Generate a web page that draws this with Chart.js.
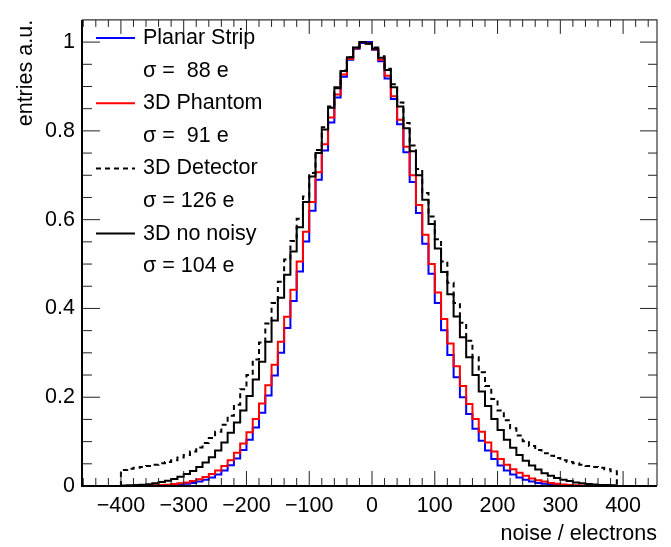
<!DOCTYPE html>
<html>
<head>
<meta charset="utf-8">
<script src="https://cdn.jsdelivr.net/npm/chart.js@4.4.1/dist/chart.umd.min.js"></script>
<style>
  html, body { margin: 0; padding: 0; background: #fff; }
</style>
</head>
<body>
<canvas id="grafica" width="671" height="547"></canvas>
<script>
// Histogramas de ruido: bins de 10 e, desde -400 hasta 400 (80 bins)
var binInicio = -400;
var binAncho = 10;

var planarStrip = [
  0, 0, 0, 0, 0, 0, 0.0005, 0.001, 0.0015, 0.0025,
  0.0035, 0.005, 0.007, 0.010, 0.014, 0.019, 0.026, 0.035, 0.047, 0.062,
  0.081, 0.104, 0.132, 0.165, 0.204, 0.249, 0.300, 0.356, 0.417, 0.483,
  0.551, 0.620, 0.690, 0.756, 0.819, 0.875, 0.922, 0.960, 0.985, 0.998,
  1.0, 0.983, 0.957, 0.918, 0.872, 0.815, 0.752, 0.685, 0.615, 0.546,
  0.478, 0.412, 0.351, 0.295, 0.245, 0.200, 0.162, 0.129, 0.102, 0.080,
  0.061, 0.046, 0.035, 0.026, 0.019, 0.014, 0.010, 0.007, 0.005, 0.0035,
  0.002, 0.001, 0, 0, 0, 0, 0, 0, 0, 0
];

var phantom3D = [
  0, 0, 0, 0.0005, 0.0008, 0.001, 0.0015, 0.002, 0.003, 0.0045,
  0.006, 0.008, 0.011, 0.015, 0.020, 0.027, 0.035, 0.045, 0.058, 0.075,
  0.096, 0.121, 0.151, 0.186, 0.227, 0.273, 0.325, 0.381, 0.442, 0.506,
  0.573, 0.640, 0.707, 0.770, 0.830, 0.882, 0.927, 0.962, 0.986, 1.0,
  0.997, 0.984, 0.960, 0.924, 0.878, 0.825, 0.764, 0.700, 0.633, 0.566,
  0.500, 0.436, 0.376, 0.321, 0.270, 0.225, 0.185, 0.151, 0.122, 0.098,
  0.078, 0.061, 0.048, 0.038, 0.030, 0.023, 0.017, 0.013, 0.010, 0.007,
  0.005, 0.0035, 0.0025, 0.0015, 0.001, 0, 0, 0, 0, 0
];

var detector3D = [
  0.032, 0.036, 0.039, 0.041, 0.043, 0.045, 0.048, 0.051, 0.054, 0.058,
  0.064, 0.070, 0.078, 0.087, 0.097, 0.108, 0.122, 0.138, 0.158, 0.183,
  0.218, 0.250, 0.285, 0.323, 0.366, 0.412, 0.460, 0.510, 0.552, 0.602,
  0.652, 0.705, 0.757, 0.808, 0.855, 0.898, 0.936, 0.966, 0.988, 1.0,
  0.997, 0.988, 0.968, 0.940, 0.905, 0.864, 0.818, 0.767, 0.714, 0.660,
  0.607, 0.556, 0.506, 0.458, 0.412, 0.368, 0.327, 0.290, 0.256, 0.225,
  0.196, 0.170, 0.148, 0.130, 0.114, 0.101, 0.090, 0.081, 0.074, 0.068,
  0.063, 0.058, 0.054, 0.051, 0.048, 0.045, 0.043, 0.041, 0.038, 0.033
];

var noNoisy3D = [
  0.001, 0.001, 0.0015, 0.002, 0.003, 0.004, 0.006, 0.009, 0.012, 0.016,
  0.021, 0.027, 0.034, 0.043, 0.053, 0.065, 0.080, 0.098, 0.120, 0.143,
  0.170, 0.203, 0.240, 0.280, 0.325, 0.373, 0.424, 0.476, 0.528, 0.583,
  0.640, 0.697, 0.750, 0.803, 0.852, 0.896, 0.935, 0.966, 0.988, 1.0,
  0.996, 0.985, 0.965, 0.937, 0.898, 0.855, 0.806, 0.754, 0.700, 0.645,
  0.590, 0.535, 0.482, 0.432, 0.382, 0.335, 0.290, 0.250, 0.213, 0.180,
  0.151, 0.126, 0.104, 0.086, 0.070, 0.057, 0.046, 0.037, 0.029, 0.023,
  0.018, 0.014, 0.011, 0.008, 0.006, 0.0045, 0.0035, 0.0025, 0.002, 0.0015
];

var nombres = ["Planar Strip", "3D Phantom", "3D Detector", "3D no noisy"];
var sigmas = ["\u03c3 =  88 e", "\u03c3 =  91 e", "\u03c3 = 126 e", "\u03c3 = 104 e"];
var xTicks = [-400, -300, -200, -100, 0, 100, 200, 300, 400];
var yTicks = [0, 0.2, 0.4, 0.6, 0.8, 1];

var fuente = '"Liberation Sans", Arial, Helvetica, sans-serif';

// convierte los contenidos de los bins en puntos para una linea escalonada
function puntosHisto(valores) {
  var pts = [{ x: binInicio, y: 0 }];
  for (var i = 0; i < valores.length; i++) {
    pts.push({ x: binInicio + i * binAncho, y: valores[i] });
  }
  pts.push({ x: binInicio + valores.length * binAncho, y: 0 });
  return pts;
}

function serie(nombre, valores, color, dash, orden) {
  return {
    label: nombre,
    data: puntosHisto(valores),
    borderColor: color,
    borderWidth: 2,
    borderDash: dash,
    stepped: 'after',
    pointRadius: 0,
    fill: false,
    order: orden
  };
}

// marco estilo ROOT con marcas hacia adentro en los cuatro lados
var marco = {
  id: 'marco',
  afterDatasetsDraw: function (chart) {
    var ctx = chart.ctx, a = chart.chartArea;
    var sx = chart.scales.x, sy = chart.scales.y;
    ctx.save();
    ctx.strokeStyle = '#222';
    ctx.lineWidth = 1;
    ctx.beginPath();
    for (var v = -460; v <= 454; v += 20) {
      var px = sx.getPixelForValue(v);
      var mayor = v % 100 === 0;
      ctx.moveTo(px, a.bottom);
      ctx.lineTo(px, a.bottom - (mayor ? 15 : 8));
      ctx.moveTo(px, a.top);
      ctx.lineTo(px, a.top + (mayor ? 14 : 7));
    }
    for (var k = 0; k <= 20; k++) {
      var py = sy.getPixelForValue(k * 0.05);
      var may = k % 4 === 0;
      ctx.moveTo(a.left, py);
      ctx.lineTo(a.left + (may ? 18 : 10), py);
      ctx.moveTo(a.right, py);
      ctx.lineTo(a.right - (may ? 17 : 9), py);
    }
    ctx.stroke();
    // ejes
    ctx.strokeStyle = '#000';
    ctx.lineWidth = 2;
    ctx.beginPath();
    ctx.moveTo(a.left, a.top);
    ctx.lineTo(a.left, a.bottom);
    ctx.lineTo(a.right, a.bottom);
    ctx.stroke();
    ctx.strokeStyle = '#333';
    ctx.lineWidth = 1.2;
    ctx.beginPath();
    ctx.moveTo(a.left, a.top);
    ctx.lineTo(a.right, a.top);
    ctx.lineTo(a.right, a.bottom);
    ctx.stroke();

    // leyenda
    var colores = ['#0000ff', '#ff0000', '#000000', '#000000'];
    var dashes = [[], [], [5, 4], []];
    ctx.font = '21.5px ' + fuente;
    ctx.textBaseline = 'middle';
    ctx.textAlign = 'left';
    ctx.fillStyle = '#000';
    for (var i = 0; i < nombres.length; i++) {
      var y1 = 38 + i * 2 * 32.6;
      var y2 = y1 + 32.6;
      ctx.strokeStyle = colores[i];
      ctx.lineWidth = 2;
      ctx.setLineDash(dashes[i]);
      ctx.beginPath();
      ctx.moveTo(96, y1);
      ctx.lineTo(135, y1);
      ctx.stroke();
      ctx.setLineDash([]);
      ctx.fillText(nombres[i], 143, y1);
      ctx.fillText(sigmas[i], 143, y2);
    }
    ctx.restore();
  }
};

var ctx = document.getElementById('grafica').getContext('2d');
var grafica = new Chart(ctx, {
  type: 'line',
  data: {
    datasets: [
      serie(nombres[0], planarStrip, '#0000ff', [], 4),
      serie(nombres[1], phantom3D, '#ff0000', [], 3),
      serie(nombres[2], detector3D, '#000000', [5, 4], 2),
      serie(nombres[3], noNoisy3D, '#000000', [], 1)
    ]
  },
  options: {
    responsive: false,
    animation: false,
    layout: { padding: { left: 0, right: 14, top: 11, bottom: 0 } },
    plugins: { legend: { display: false }, tooltip: { enabled: false } },
    scales: {
      x: {
        type: 'linear',
        min: -462,
        max: 454,
        grid: { display: false, drawTicks: false },
        border: { display: false },
        afterBuildTicks: function (s) { s.ticks = xTicks.map(function (v) { return { value: v }; }); },
        afterFit: function (s) { s.height = 61; },
        ticks: {
          padding: 7,
          color: '#000',
          maxRotation: 0,
          autoSkip: false,
          font: { family: fuente, size: 21.5 },
          callback: function (v) { return v < 0 ? '\u2212' + Math.abs(v) : '' + v; }
        },
        title: {
          display: true,
          text: 'noise / electrons',
          align: 'end',
          color: '#000',
          padding: 0,
          font: { family: fuente, size: 21.5 }
        }
      },
      y: {
        min: 0,
        max: 1.05,
        grid: { display: false, drawTicks: false },
        border: { display: false },
        afterBuildTicks: function (s) { s.ticks = yTicks.map(function (v) { return { value: v }; }); },
        afterFit: function (s) { s.width = 82; },
        ticks: {
          padding: 7,
          color: '#000',
          font: { family: fuente, size: 21.5 },
          callback: function (v) { return String(Number(v.toFixed(2))); }
        },
        title: {
          display: true,
          text: 'entries a.u.',
          align: 'end',
          color: '#000',
          padding: { top: 13, bottom: 0 },
          font: { family: fuente, size: 21.5 }
        }
      }
    }
  },
  plugins: [marco]
});
</script>
</body>
</html>
